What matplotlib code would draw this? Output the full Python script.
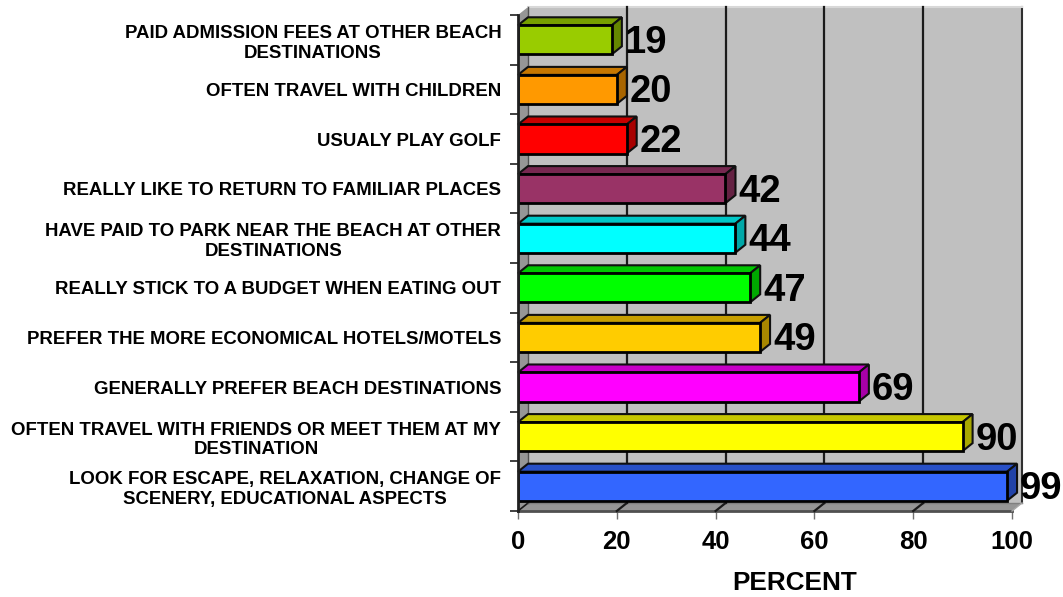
import matplotlib
matplotlib.use('Agg')
import matplotlib.pyplot as plt
from matplotlib.colors import to_rgb
from matplotlib.patches import Polygon

plt.rcParams['font.family'] = ['Liberation Sans', 'DejaVu Sans']
plt.rcParams['font.weight'] = 'bold'

labels = [
    'LOOK FOR ESCAPE, RELAXATION, CHANGE OF\nSCENERY, EDUCATIONAL ASPECTS',
    'OFTEN TRAVEL WITH FRIENDS OR MEET THEM AT MY\nDESTINATION',
    'GENERALLY PREFER BEACH DESTINATIONS',
    'PREFER THE MORE ECONOMICAL HOTELS/MOTELS',
    'REALLY STICK TO A BUDGET WHEN EATING OUT',
    'HAVE PAID TO PARK NEAR THE BEACH AT OTHER\nDESTINATIONS',
    'REALLY LIKE TO RETURN TO FAMILIAR PLACES',
    'USUALY PLAY GOLF',
    'OFTEN TRAVEL WITH CHILDREN',
    'PAID ADMISSION FEES AT OTHER BEACH\nDESTINATIONS',
]
values = [99, 90, 69, 49, 47, 44, 42, 22, 20, 19]
colors = ['#3366FF', '#FFFF00', '#FF00FF', '#FFCC00', '#00FF00',
          '#00FFFF', '#993366', '#FF0000', '#FF9900', '#99CC00']

W, H = 1063, 597
fig = plt.figure(figsize=(W / 100, H / 100), dpi=100)
ax = fig.add_axes([518 / W, 1 - 511 / H, 494 / W, 496 / H])
ax.set_xlim(0, 100)
ax.set_ylim(-0.5, 9.5)

# depth of the fake 3d box, in data units
dx = 10 / 4.94
dy = 8 / 49.6
y0, y1 = -0.5, 9.5


def shade(c, f):
    return tuple(v * f for v in to_rgb(c))


def face(pts, fc, ec='#101010', lw=0.0, z=1):
    ax.add_patch(Polygon(pts, closed=True, facecolor=fc, edgecolor=ec,
                         linewidth=lw, zorder=z, clip_on=False))


# walls and floor
face([(dx, y0 + dy), (100 + dx, y0 + dy), (100 + dx, y1 + dy), (dx, y1 + dy)], '#C0C0C0')
face([(0, y0), (dx, y0 + dy), (dx, y1 + dy), (0, y1)], '#969696')
face([(0, y0), (100, y0), (100 + dx, y0 + dy), (dx, y0 + dy)], '#969696')
ax.plot([100 + dx, 100 + dx], [y0 + dy, y1 + dy], color='#303030', lw=1.5, zorder=2, clip_on=False)
ax.plot([dx, 100 + dx], [y1 + dy, y1 + dy], color='#D8D8D8', lw=1.5, zorder=2, clip_on=False)
ax.plot([dx, 100 + dx], [y0 + dy, y0 + dy], color='#808080', lw=1, zorder=2, clip_on=False)
ax.plot([0, 100], [y0, y0], color='#505050', lw=2, zorder=2, clip_on=False)
ax.plot([100, 100 + dx], [y0, y0 + dy], color='#A8A8A8', lw=1, zorder=2, clip_on=False)

for g in [20, 40, 60, 80]:
    ax.plot([g + dx, g + dx], [y0 + dy, y1 + dy], color='#1A1A1A', lw=1.6, zorder=2, clip_on=False)
    ax.plot([g, g + dx], [y0, y0 + dy], color='#1A1A1A', lw=1.6, zorder=2, clip_on=False)
ax.plot([0, dx], [y0, y0 + dy], color='#1A1A1A', lw=1.2, zorder=2, clip_on=False)
ax.plot([dx, dx], [y0 + dy, y1 + dy], color='#505050', lw=1, zorder=2, clip_on=False)

bar_h = 0.585
pos = list(range(len(values)))
ax.barh(pos, values, height=bar_h, color=colors, edgecolor='black', linewidth=2, zorder=4)
for i, v, c in zip(pos, values, colors):
    lo, hi = i - bar_h / 2, i + bar_h / 2
    face([(0, hi), (v, hi), (v + dx, hi + dy), (dx, hi + dy)], shade(c, 0.78), lw=1.5, z=3)
    face([(v, lo), (v + dx, lo + dy), (v + dx, hi + dy), (v, hi)], shade(c, 0.66), lw=1.5, z=3)
    ax.annotate(str(v), (v + dx, i), xytext=(3, -3), textcoords='offset pixels',
                ha='left', va='center', fontsize=27.5, fontweight='bold', color='black', zorder=6,
                annotation_clip=False)

for s in ['top', 'right', 'bottom']:
    ax.spines[s].set_visible(False)
ax.spines['left'].set_color('#202020')
ax.spines['left'].set_linewidth(2)
ax.spines['left'].set_zorder(5)

ax.set_xticks([0, 20, 40, 60, 80, 100])
ax.tick_params(axis='x', length=6, width=1, color='#707070', labelsize=18.5, pad=8)
ax.set_yticks([p - 0.5 for p in pos] + [9.5])
ax.set_yticklabels([])
ax.tick_params(axis='y', which='major', length=6, width=1.2, color='#202020')
ax.set_yticks(pos, minor=True)
ax.set_yticklabels(labels, minor=True, multialignment='center', fontsize=13.4, fontweight='bold',
                   linespacing=1.22)
ax.tick_params(axis='y', which='minor', length=0, pad=12)
for t in ax.get_xticklabels():
    t.set_fontweight('bold')

ax.set_xlabel('PERCENT', fontsize=18.8, fontweight='bold', labelpad=12)
ax.xaxis.label.set_x(0.56)

fig.savefig('out.png', dpi=100)
